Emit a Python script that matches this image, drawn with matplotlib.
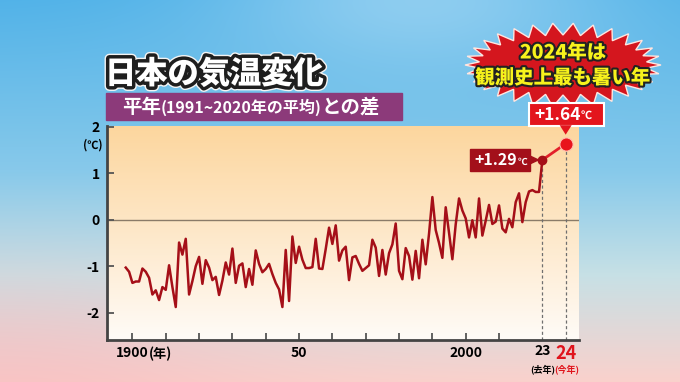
import numpy as np
import matplotlib
matplotlib.use('Agg')
import matplotlib.pyplot as plt
from matplotlib.patches import Rectangle, Polygon
import matplotlib.patheffects as pe

plt.rcParams['font.family'] = ['Noto Sans CJK JP', 'DejaVu Sans']

W, H = 680, 382

# annual mean temperature anomaly in Japan, 1898-2023 (deg C vs 1991-2020 mean)
anomaly = [
    -1.03, -1.12, -1.36, -1.33, -1.33, -1.05, -1.12, -1.25, -1.61, -1.52,  # 1898-1907
    -1.73, -1.45, -1.51, -0.98, -1.45, -1.88, -0.49, -0.75, -0.41, -1.61,  # 1908-1917
    -1.32, -1.00, -0.80, -1.38, -0.87, -1.03, -1.30, -1.23, -1.62, -1.31,  # 1918-1927
    -0.92, -1.18, -0.62, -1.36, -0.99, -0.94, -1.45, -1.06, -1.40, -0.66,  # 1928-1937
    -0.95, -1.13, -1.06, -0.95, -1.17, -1.36, -1.50, -1.88, -0.65, -1.75,  # 1938-1947
    -0.36, -0.93, -0.58, -0.86, -1.04, -1.04, -1.02, -0.41, -1.05, -1.06,  # 1948-1957
    -0.63, -0.17, -0.52, -0.12, -0.88, -0.66, -0.58, -1.30, -0.81, -0.78,  # 1958-1967
    -0.95, -1.10, -1.04, -0.98, -0.43, -0.60, -1.21, -0.65, -1.18, -0.72,  # 1968-1977
    -0.53, -0.08, -1.10, -1.28, -0.61, -0.78, -1.29, -0.67, -1.26, -0.43,  # 1978-1987
    -0.96, -0.30, 0.49, -0.22, -0.50, -0.82, 0.27, -0.28, -0.85, -0.10,    # 1988-1997
    0.46, 0.20, 0.03, -0.38, -0.01, -0.38, 0.46, -0.34, -0.02, 0.32,       # 1998-2007
    -0.09, -0.04, 0.31, -0.19, -0.27, 0.02, -0.16, 0.38, 0.57, -0.05,      # 2008-2017
    0.38, 0.61, 0.64, 0.60, 0.60, 1.29,                                    # 2018-2023
]
years = list(range(1898, 1898 + len(anomaly)))

prev_year, prev_value = 2023, 1.29
this_year_value = 1.64
this_year_pos = 2030   # the chart leaves a gap and puts 2024 here on the axis

decade_ticks = list(range(1900, 2011, 10))
decade_labels = {1900: '1900', 1950: '50', 2000: '2000'}
ytick_vals = [-2, -1, 0, 1, 2]

title = '日本の気温変化'
sub_parts = [('平年', 14), ('(1991~2020年の平均)', 11.5), ('との差', 14)]
burst_lines = ['2024年は', '観測史上最も暑い年']


def vgrad(h, w, stops, cols):
    t = np.linspace(0, 1, h)
    out = np.zeros((h, w, 3))
    for c in range(3):
        out[:, :, c] = np.interp(t, stops, [k[c] for k in cols])[:, None]
    return out


fig = plt.figure(figsize=(W / 100, H / 100), dpi=100)

# sky background
bg = fig.add_axes([0, 0, 1, 1], zorder=0)
img = vgrad(H, W, [0, 0.45, 0.72, 1.0],
            [(0.32, 0.70, 0.91), (0.53, 0.79, 0.92), (0.78, 0.88, 0.90), (0.98, 0.82, 0.80)])
xx, yy = np.meshgrid(np.arange(W), np.arange(H))
glow = np.exp(-((xx - 420) ** 2 / 200 ** 2 + (yy + 10) ** 2 / 80 ** 2))[:, :, None]
img = img * (1 - 0.35 * glow) + 0.35 * glow
pink = np.exp(-((xx - 0) ** 2 / 260 ** 2 + (yy - 382) ** 2 / 110 ** 2))[:, :, None]
img = img * (1 - 0.5 * pink) + 0.5 * pink * np.array([0.97, 0.72, 0.74])
bg.imshow(img, extent=[0, W, H, 0], aspect='auto')
bg.set_xlim(0, W)
bg.set_ylim(H, 0)
bg.axis('off')

# chart
ax = fig.add_axes([0.157, 0.110, 0.694, 0.560], zorder=1)
xlim = (1892.3, 2033.9)
ylim = (-2.59, 2.02)
ax.set_xlim(xlim)
ax.set_ylim(ylim)
panel = vgrad(200, 2, [0, 0.5, 1.0],
              [(0.99, 0.84, 0.62), (0.995, 0.91, 0.79), (1.0, 0.985, 0.97)])
ax.imshow(panel, extent=[xlim[0], xlim[1], ylim[0], ylim[1]], aspect='auto', zorder=0)

ax.axhline(0, color='#8a7b68', lw=1.0, zorder=1)
ax.plot(years, anomaly, color='#a50f18', lw=1.8, zorder=3)
ax.plot([prev_year, this_year_pos], [prev_value, this_year_value], color='#e3202a', lw=2, zorder=3)
ax.plot([prev_year, prev_year], [ylim[0], prev_value], color='#6f6f6f', lw=0.9,
        ls=(0, (2.5, 2)), zorder=2)
ax.plot([this_year_pos, this_year_pos], [ylim[0], this_year_value], color='#6f6f6f', lw=0.9,
        ls=(0, (2.5, 2)), zorder=2)
ax.plot(prev_year, prev_value, 'o', ms=6, color='#a50f18', zorder=4)
ax.plot(this_year_pos, this_year_value, 'o', ms=9.5, mfc='#e8141c', mec='#ffc0b0', mew=0.8, zorder=4)

for s in ['top', 'right']:
    ax.spines[s].set_visible(False)
for s in ['left', 'bottom']:
    ax.spines[s].set_color('#444444')
    ax.spines[s].set_linewidth(2)

ax.set_yticks(ytick_vals)
ax.set_yticklabels([str(v) for v in ytick_vals], fontsize=10, fontweight='bold')
ax.set_xticks(decade_ticks)
ax.set_xticklabels([decade_labels.get(d, '') for d in decade_ticks], fontsize=10, fontweight='bold')
ax.set_xticks([prev_year, this_year_pos], minor=True)
ax.set_xticklabels(['23', '24'], minor=True, fontsize=10, fontweight='bold')
ax.tick_params(axis='both', which='major', direction='in', length=5, width=1.3, color='#555555')
ax.tick_params(axis='x', which='major', pad=4)
ax.tick_params(axis='y', which='major', pad=5)
ax.tick_params(axis='x', which='minor', length=0, pad=3)
lab24 = ax.get_xticklabels(minor=True)[1]
lab24.set_color('#e0141c')
lab24.set_fontsize(13)

ax.annotate('(年)', xy=(1900, 0), xycoords=('data', 'axes fraction'), xytext=(16, -14),
            textcoords='offset pixels', ha='left', va='center', fontsize=9.5, fontweight='bold')
ax.annotate('(去年)', xy=(prev_year, 0), xycoords=('data', 'axes fraction'), xytext=(0, -29),
            textcoords='offset pixels', ha='center', va='center', fontsize=6.5, fontweight='bold')
ax.annotate('(今年)', xy=(this_year_pos, 0), xycoords=('data', 'axes fraction'), xytext=(1, -29),
            textcoords='offset pixels', ha='center', va='center', fontsize=6.5, fontweight='bold',
            color='#e0141c')
ax.annotate('(℃)', xy=(0, 2), xycoords=('axes fraction', 'data'), xytext=(-14, -18),
            textcoords='offset pixels', ha='center', va='center', fontsize=8, fontweight='bold')

# overlay in pixel coordinates
ov = fig.add_axes([0, 0, 1, 1], zorder=5)
ov.set_xlim(0, W)
ov.set_ylim(H, 0)
ov.axis('off')
ov.patch.set_alpha(0)


def to_px(x, y):
    d = ax.transData.transform((x, y))
    return d[0], H - d[1]


# title
ov.text(105, 74, title, fontsize=22.5, fontweight='black', color='white', ha='left', va='center',
        path_effects=[pe.Stroke(linewidth=7, foreground='#f4f4f4'),
                      pe.Stroke(linewidth=5, foreground='#1e1e1e'), pe.Normal()])

# subtitle bar
ov.add_patch(Rectangle((106, 93), 296, 27, color='#8c3a7a'))
fig.canvas.draw()
r = fig.canvas.get_renderer()
xpos = 122
for txt, fs in sub_parts:
    t = ov.text(xpos, 107.5, txt, fontsize=fs, fontweight='bold', color='white', ha='left', va='center')
    bb = t.get_window_extent(renderer=r)
    xpos += bb.width

# burst
cx, cy = 563, 65
n = 30
ang = np.linspace(0, 2 * np.pi, 2 * n, endpoint=False)
rx = np.where(np.arange(2 * n) % 2 == 0, 98, 84)
ry = np.where(np.arange(2 * n) % 2 == 0, 42, 30)
ov.add_patch(Polygon(np.column_stack([cx + rx * np.cos(ang), cy + ry * np.sin(ang)]),
                     closed=True, fc='#d4161e', ec='#ffe6e0', lw=1.0))
for i, line in enumerate(burst_lines):
    ov.text(cx, 53 + 25 * i, line, fontsize=14, fontweight='black', color='#f7f21c',
            ha='center', va='center',
            path_effects=[pe.Stroke(linewidth=3, foreground='#222222'), pe.Normal()])

# +1.29 label
x1, y1 = to_px(prev_year, prev_value)
ov.add_patch(Rectangle((x1 - 72, y1 - 11), 60, 22, color='#a3101a'))
ov.add_patch(Polygon([(x1 - 12.5, y1 - 4), (x1 - 12.5, y1 + 4), (x1 - 4, y1)], color='#a3101a'))
ov.text(x1 - 25, y1 + 0.5, '+%.2f' % prev_value, fontsize=11.5, fontweight='bold', color='white',
        ha='right', va='center')
ov.text(x1 - 25, y1 + 1.5, '℃', fontsize=7, fontweight='bold', color='white', ha='left', va='center')

# +1.64 label
x2, y2 = to_px(this_year_pos, this_year_value)
ov.add_patch(Rectangle((x2 - 37, y2 - 41), 75, 23, fc='#e3151d', ec='white', lw=1.5))
ov.add_patch(Polygon([(x2 - 6, y2 - 18.5), (x2 + 6, y2 - 18.5), (x2, y2 - 9)], fc='#e3151d', ec='none'))
ov.text(x2 + 15, y2 - 29, '+%.2f' % this_year_value, fontsize=12.5, fontweight='bold', color='white',
        ha='right', va='center')
ov.text(x2 + 15, y2 - 28, '℃', fontsize=8, fontweight='bold', color='white', ha='left', va='center')

fig.savefig('out.png', dpi=100)
